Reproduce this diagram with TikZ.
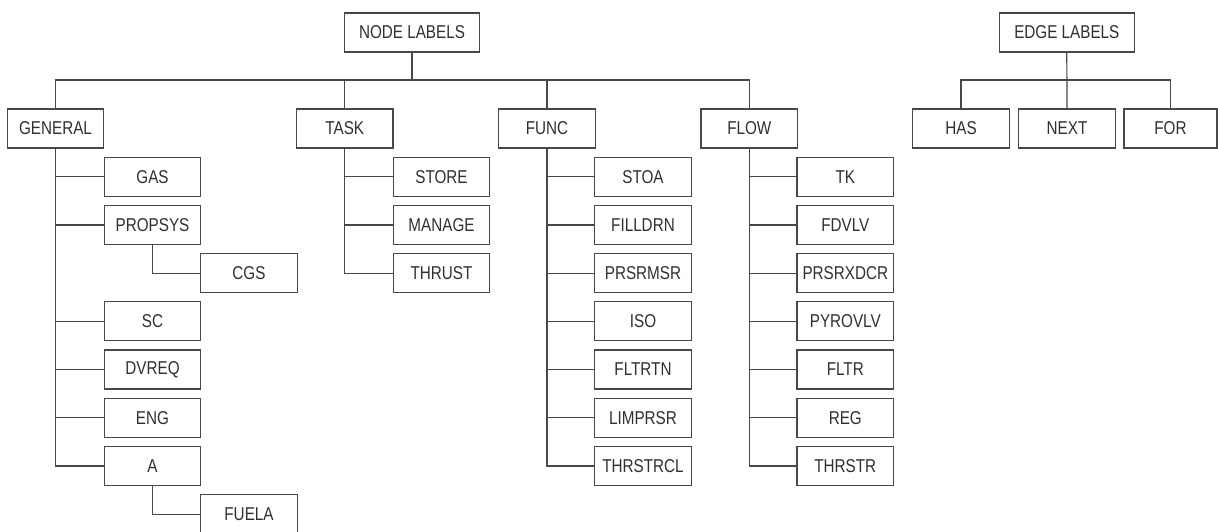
\documentclass[tikz,border=0pt]{standalone}
\usepackage{fontspec}
\setmainfont[FakeStretch=0.82]{Liberation Sans}
\usepackage{xcolor}
\definecolor{linegray}{RGB}{72, 72, 72}
\definecolor{textgray}{RGB}{48, 48, 48}
\usepackage{tikz}
\usetikzlibrary{positioning}

\tikzset{
    box/.style={draw=linegray, line width=1.2pt, fill=white, minimum width=96.5pt, minimum height=39pt,
        inner sep=0pt, text=textgray, font=\fontsize{18.6}{20}\selectfont},
    topbox/.style={box, minimum width=135pt},
    link/.style={draw=linegray, line width=1.2pt}
}

\begin{document}
\begin{tikzpicture}[x=1pt, y=-1pt]
    \useasboundingbox[fill=white] (0,0) rectangle (1218,531);
    % node labels tree
    \node[topbox] (nodelabels) at (412,32.5) {NODE LABELS};
    \coordinate (nbus) at (412,80);
    \node[box] (general) at (55.5,128.5) {GENERAL};
    \node[box] (task) at (344.8,128.5) {TASK};
    \node[box] (func) at (547,128.5) {FUNC};
    \node[box] (flow) at (749.3,128.5) {FLOW};
    % general
    \node[box] (gas) at (152.5,176.7) {GAS};
    \node[box] (propsys) at (152.5,224.9) {PROPSYS};
    \node[box] (cgs) at (249,273.1) {CGS};
    \node[box] (sc) at (152.5,321.3) {SC};
    \node[box] (dvreq) at (152.5,369.5) {DVREQ};
    \node[box] (eng) at (152.5,417.7) {ENG};
    \node[box] (a) at (152.5,465.9) {A};
    \node[box] (fuela) at (249,514.1) {FUELA};
    % task
    \node[box] (store) at (441.5,176.7) {STORE};
    \node[box] (manage) at (441.5,224.9) {MANAGE};
    \node[box] (thrust) at (441.5,273.1) {THRUST};
    % func
    \node[box] (stoa) at (643,176.7) {STOA};
    \node[box] (filldrn) at (643,224.9) {FILLDRN};
    \node[box] (prsrmsr) at (643,273.1) {PRSRMSR};
    \node[box] (iso) at (643,321.3) {ISO};
    \node[box] (fltrtn) at (643,369.5) {FLTRTN};
    \node[box] (limprsr) at (643,417.7) {LIMPRSR};
    \node[box] (thrstrcl) at (643,465.9) {THRSTRCL};
    % flow
    \node[box] (tk) at (845.3,176.7) {TK};
    \node[box] (fdvlv) at (845.3,224.9) {FDVLV};
    \node[box] (prsrxdcr) at (845.3,273.1) {PRSRXDCR};
    \node[box] (pyrovlv) at (845.3,321.3) {PYROVLV};
    \node[box] (fltr) at (845.3,369.5) {FLTR};
    \node[box] (reg) at (845.3,417.7) {REG};
    \node[box] (thrstr) at (845.3,465.9) {THRSTR};
    % edge labels tree
    \node[topbox] (edgelabels) at (1066.8,32.5) {EDGE LABELS};
    \coordinate (ebus) at (1067,80);
    \node[box] (has) at (961,128.5) {HAS};
    \node[box] (next) at (1067,128.5) {NEXT};
    \node[box, minimum width=93pt] (for) at (1170.5,128.5) {FOR};

    % connectors
    \draw[link] (nodelabels.south) -- (nbus);
    \draw[link] (general.north) |- (nbus) -| (flow.north);
    \draw[link] (nbus) -| (task.north);
    \draw[link] (nbus) -| (func.north);
    \draw[link] (general.south) |- (gas.west);
    \draw[link] (general.south) |- (propsys.west);
    \draw[link] (general.south) |- (sc.west);
    \draw[link] (general.south) |- (dvreq.west);
    \draw[link] (general.south) |- (eng.west);
    \draw[link] (general.south) |- (a.west);
    \draw[link] (propsys.south) |- (cgs.west);
    \draw[link] (a.south) |- (fuela.west);
    \draw[link] (task.south) |- (store.west);
    \draw[link] (task.south) |- (manage.west);
    \draw[link] (task.south) |- (thrust.west);
    \draw[link] (func.south) |- (stoa.west);
    \draw[link] (func.south) |- (filldrn.west);
    \draw[link] (func.south) |- (prsrmsr.west);
    \draw[link] (func.south) |- (iso.west);
    \draw[link] (func.south) |- (fltrtn.west);
    \draw[link] (func.south) |- (limprsr.west);
    \draw[link] (func.south) |- (thrstrcl.west);
    \draw[link] (flow.south) |- (tk.west);
    \draw[link] (flow.south) |- (fdvlv.west);
    \draw[link] (flow.south) |- (prsrxdcr.west);
    \draw[link] (flow.south) |- (pyrovlv.west);
    \draw[link] (flow.south) |- (fltr.west);
    \draw[link] (flow.south) |- (reg.west);
    \draw[link] (flow.south) |- (thrstr.west);
    \draw[link] (edgelabels.south) -- (next.north);
    \draw[link] (has.north) |- (ebus) -| (for.north);
\end{tikzpicture}
\end{document}
